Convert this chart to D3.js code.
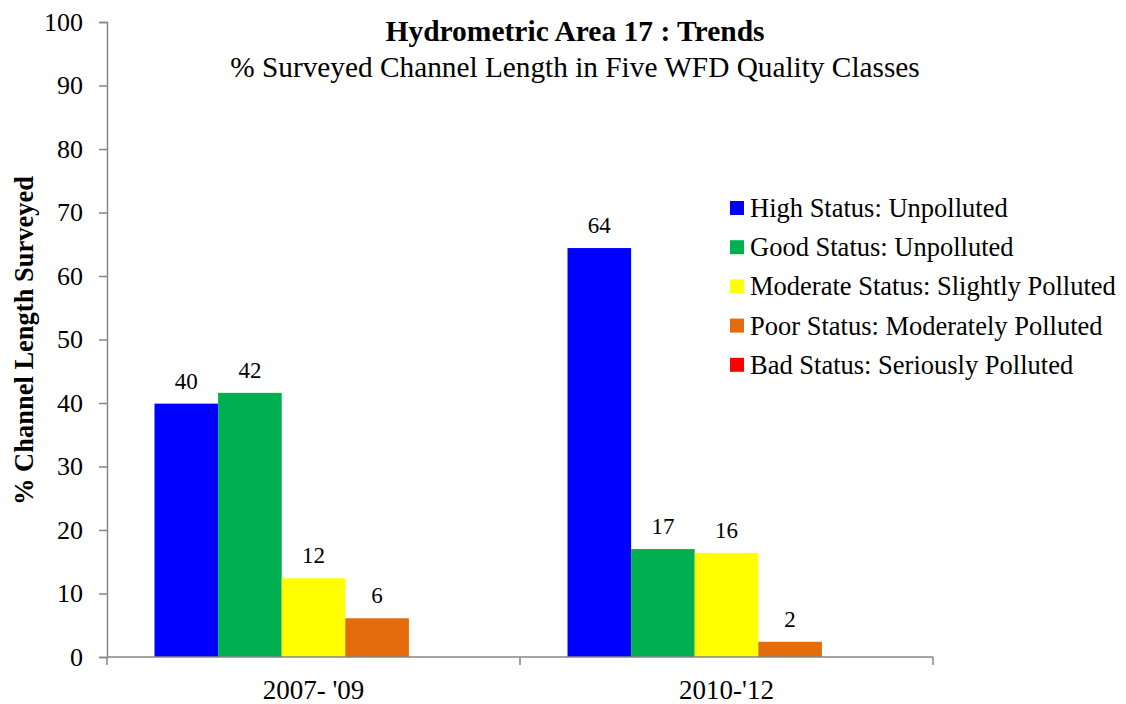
<!DOCTYPE html>
<html>
<head>
<meta charset="utf-8">
<script src="https://cdn.jsdelivr.net/npm/d3@7"></script>
<style>
  body { margin: 0; background: #fff; }
  svg text { font-family: "Liberation Serif", "Times New Roman", serif; fill: #000; }
</style>
</head>
<body>
<div id="chart"></div>
<script>
// data
const periods = ["2007- '09", "2010-'12"];
const classes = [
  "High Status: Unpolluted",
  "Good Status: Unpolluted",
  "Moderate Status: Slightly Polluted",
  "Poor Status: Moderately Polluted",
  "Bad Status: Seriously Polluted"
];
const classColors = ["#0000FF", "#00B050", "#FFFF00", "#E46C0A", "#FF0000"];
const values2007 = [39.9, 41.6, 12.4, 6.1, 0];
const values2010 = [64.4, 17.0, 16.4, 2.4, 0];
const yTicks = [0, 10, 20, 30, 40, 50, 60, 70, 80, 90, 100];

const seriesByPeriod = [values2007, values2010];

const width = 1126, height = 704;
const margin = {top: 22, right: 193, bottom: 47, left: 107};

const svg = d3.select("#chart").append("svg")
  .attr("width", width)
  .attr("height", height);

const x0 = d3.scaleBand()
  .domain(periods)
  .range([margin.left, width - margin.right]);

const x1 = d3.scaleBand()
  .domain(classes)
  .range([0, x0.bandwidth()])
  .paddingOuter(0.747);

const y = d3.scaleLinear()
  .domain([0, 100])
  .range([height - margin.bottom, margin.top]);

const axisColor = "#868686";

// bars
const groups = svg.selectAll(".group")
  .data(periods)
  .enter().append("g")
  .attr("class", "group")
  .attr("transform", d => `translate(${x0(d)},0)`);

groups.selectAll("rect")
  .data((d, i) => classes.map((c, j) => ({cls: c, value: seriesByPeriod[i][j], color: classColors[j]})))
  .enter().append("rect")
  .attr("x", d => x1(d.cls))
  .attr("y", d => y(d.value))
  .attr("width", x1.bandwidth())
  .attr("height", d => y(0) - y(d.value))
  .attr("fill", d => d.color);

// value labels
groups.selectAll(".val")
  .data((d, i) => classes.map((c, j) => ({cls: c, value: seriesByPeriod[i][j]})).filter(d => d.value > 0))
  .enter().append("text")
  .attr("class", "val")
  .attr("x", d => x1(d.cls) + x1.bandwidth() / 2)
  .attr("y", d => y(d.value) - 15)
  .attr("text-anchor", "middle")
  .style("font-size", "23px")
  .text(d => Math.round(d.value));

// y axis
const yAxis = svg.append("g")
  .attr("transform", `translate(${margin.left},0)`)
  .call(d3.axisLeft(y).tickValues(yTicks).tickSize(8).tickPadding(16));
yAxis.selectAll("text").style("font-size", "26px");
yAxis.selectAll("line, path").attr("stroke", axisColor).attr("stroke-width", 1.5);

// x axis with ticks at category boundaries
const xAxisG = svg.append("g")
  .attr("transform", `translate(0,${y(0)})`);
xAxisG.append("line")
  .attr("x1", margin.left).attr("x2", width - margin.right)
  .attr("stroke", axisColor).attr("stroke-width", 1.5);
const boundaries = periods.map(p => x0(p)).concat([x0(periods[periods.length - 1]) + x0.bandwidth()]);
xAxisG.selectAll(".btick")
  .data(boundaries)
  .enter().append("line")
  .attr("x1", d => d).attr("x2", d => d)
  .attr("y1", 0).attr("y2", 8)
  .attr("stroke", axisColor).attr("stroke-width", 1.5);
xAxisG.selectAll(".xlab")
  .data(periods)
  .enter().append("text")
  .attr("x", d => x0(d) + x0.bandwidth() / 2)
  .attr("y", 42)
  .attr("text-anchor", "middle")
  .style("font-size", "27px")
  .text(d => d);

// y axis title
svg.append("text")
  .attr("transform", `translate(33,${(y(0) + y(100)) / 2 + 1}) rotate(-90)`)
  .attr("text-anchor", "middle")
  .style("font-size", "26.5px")
  .style("font-weight", "bold")
  .text("% Channel Length Surveyed");

// titles
svg.append("text")
  .attr("x", 575).attr("y", 41)
  .attr("text-anchor", "middle")
  .style("font-size", "29.5px")
  .style("font-weight", "bold")
  .text("Hydrometric Area 17 : Trends");
svg.append("text")
  .attr("x", 575).attr("y", 77)
  .attr("text-anchor", "middle")
  .style("font-size", "29.3px")
  .text("% Surveyed Channel Length in Five WFD Quality Classes");

// legend
const legend = svg.append("g").attr("transform", "translate(730,208)");
const rows = legend.selectAll(".row")
  .data(classes)
  .enter().append("g")
  .attr("transform", (d, i) => `translate(0,${i * 39.2})`);
rows.append("rect")
  .attr("x", 0).attr("y", -7)
  .attr("width", 14).attr("height", 14)
  .attr("fill", (d, i) => classColors[i]);
rows.append("text")
  .attr("x", 20).attr("y", 9)
  .style("font-size", "26.5px")
  .text(d => d);
</script>
</body>
</html>
